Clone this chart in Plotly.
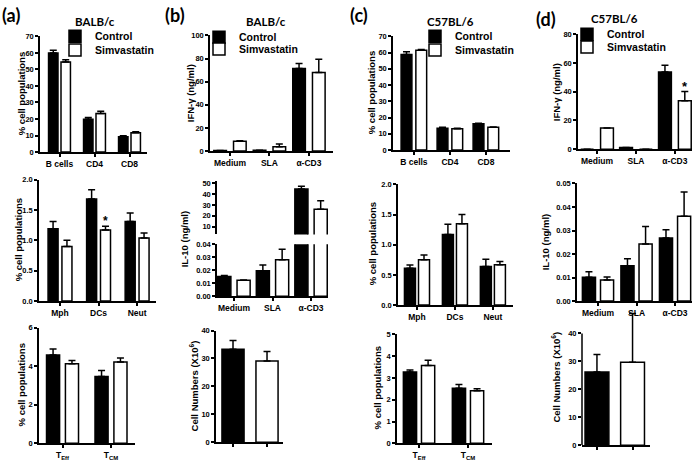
import plotly.graph_objects as go

# categories
cells = ["B cells", "CD4", "CD8"]
myeloid = ["Mph", "DCs", "Neut"]
tcells = ["T<sub>Eff</sub>", "T<sub>CM</sub>"]
stim = ["Medium", "SLA", "α-CD3"]
groups = ["Control", "Simvastatin"]

# (a) BALB/c
a_cells_ctrl = [60.0, 19.9, 9.3]
a_cells_ctrl_err = [1.6, 1.0, 0.6]
a_cells_simv = [54.5, 23.3, 11.7]
a_cells_simv_err = [1.4, 1.4, 0.6]
a_myel_ctrl = [1.19, 1.68, 1.31]
a_myel_ctrl_err = [0.12, 0.15, 0.14]
a_myel_simv = [0.90, 1.17, 1.04]
a_myel_simv_err = [0.10, 0.06, 0.08]
a_tcell_ctrl = [4.58, 3.47]
a_tcell_ctrl_err = [0.31, 0.31]
a_tcell_simv = [4.12, 4.22]
a_tcell_simv_err = [0.17, 0.20]

# (b) BALB/c
b_ifn_ctrl = [0.6, 0.8, 71.4]
b_ifn_ctrl_err = [0.0, 0.0, 4.2]
b_ifn_simv = [8.5, 3.7, 68.0]
b_ifn_simv_err = [0.4, 2.5, 11.3]
b_il10_ctrl = [0.0152, 0.0197, 44.8]
b_il10_ctrl_err = [0.0008, 0.0043, 2.7]
b_il10_simv = [0.0122, 0.0281, 26.0]
b_il10_simv_err = [0.0002, 0.0081, 8.0]
b_count = [33.3, 29.1]
b_count_err = [3.1, 3.4]

# (c) C57BL/6
c_cells_ctrl = [58.9, 13.4, 16.2]
c_cells_ctrl_err = [1.6, 0.6, 0.4]
c_cells_simv = [61.5, 13.2, 14.0]
c_cells_simv_err = [0.4, 0.2, 0.2]
c_myel_ctrl = [0.61, 1.17, 0.64]
c_myel_ctrl_err = [0.055, 0.17, 0.12]
c_myel_simv = [0.75, 1.35, 0.67]
c_myel_simv_err = [0.08, 0.15, 0.05]
c_tcell_ctrl = [3.27, 2.53]
c_tcell_ctrl_err = [0.10, 0.17]
c_tcell_simv = [3.57, 2.42]
c_tcell_simv_err = [0.25, 0.09]

# (d) C57BL/6
d_ifn_ctrl = [0.0, 1.1, 53.7]
d_ifn_ctrl_err = [0.0, 0.0, 4.8]
d_ifn_simv = [14.7, 0.0, 33.8]
d_ifn_simv_err = [0.0, 0.0, 6.3]
d_il10_ctrl = [0.0101, 0.0150, 0.0268]
d_il10_ctrl_err = [0.0024, 0.0030, 0.0035]
d_il10_simv = [0.0090, 0.0243, 0.0361]
d_il10_simv_err = [0.0013, 0.0074, 0.0103]
d_count = [26.2, 29.7]
d_count_err = [6.3, 17.4]

W, H = 700, 464
FONT = "Liberation Sans, Arial, sans-serif"
TFONT = "Lato, Liberation Sans, sans-serif"

fig = go.Figure()


def names(i):
    s = "" if i == 1 else str(i)
    return "x" + s, "y" + s, "xaxis" + s, "yaxis" + s


def axes(i, xpx, ypx, xr, yr, dt, fmt="", show_x=True, xlabels=True, yline=True):
    xa, ya, xk, yk = names(i)
    fig.update_layout({
        xk: dict(domain=[xpx[0] / W, xpx[1] / W], anchor=ya, type="category", range=xr,
                 showline=show_x, linecolor="black", linewidth=1.5,
                 ticks="outside" if show_x else "", ticklen=3, tickwidth=1.5, tickcolor="black",
                 showticklabels=xlabels, showgrid=False, zeroline=False, fixedrange=True,
                 tickfont=dict(family=FONT, size=8.5, color="black", weight="bold")),
        yk: dict(domain=[1 - ypx[1] / H, 1 - ypx[0] / H], anchor=xa, range=yr,
                 dtick=dt, tick0=0, tickformat=fmt,
                 showline=yline, linecolor="black", linewidth=1.5,
                 ticks="outside", ticklen=3, tickwidth=1.5, tickcolor="black",
                 showgrid=False, zeroline=False, fixedrange=True,
                 tickfont=dict(family=FONT, size=7.5, color="black", weight="bold")),
    })


def bars(i, x, y, err, color, name, w, off, legend=None):
    xa, ya, _, _ = names(i)
    fig.add_trace(go.Bar(
        x=x, y=y, name=name, xaxis=xa, yaxis=ya, width=w, offset=off,
        marker=dict(color=color, line=dict(color="black", width=1.5)),
        error_y=dict(type="data", array=err, arrayminus=[0 for _ in err], symmetric=False,
                     color="black", thickness=1.5, width=3.5),
        showlegend=legend is not None, legend=legend or "legend",
    ))


def pair(i, cats, ctrl, ctrl_err, simv, simv_err, w, g, legends=(None, None)):
    bars(i, cats, ctrl, ctrl_err, "black", "Control", w, -w - g / 2, legends[0])
    bars(i, cats, simv, simv_err, "white", "Simvastatin", w, g / 2, legends[1])


def single(i, y, err, w):
    xa, ya, _, _ = names(i)
    fig.add_trace(go.Bar(
        x=groups, y=y, xaxis=xa, yaxis=ya, width=w, showlegend=False,
        marker=dict(color=["black", "white"], line=dict(color="black", width=1.5)),
        error_y=dict(type="data", array=err, arrayminus=[0 for _ in err], symmetric=False,
                     color="black", thickness=1.5, width=3.5),
    ))


# (a)
pair(1, cells, a_cells_ctrl, a_cells_ctrl_err, a_cells_simv, a_cells_simv_err, 0.27, 0.086, ("legend", "legend2"))
axes(1, (40, 147), (33, 151), [-0.557, 2.5], [0, 70], 10)
pair(2, myeloid, a_myel_ctrl, a_myel_ctrl_err, a_myel_simv, a_myel_simv_err, 0.26, 0.1)
axes(2, (39, 156), (179, 303), [-0.545, 2.49], [0, 2], 0.5, ".1f")
pair(3, tcells, a_tcell_ctrl, a_tcell_ctrl_err, a_tcell_simv, a_tcell_simv_err, 0.27, 0.12)
axes(3, (39, 135), (330, 448), [-0.485, 1.495], [0, 6], 2)

# (b)
pair(4, stim, b_ifn_ctrl, b_ifn_ctrl_err, b_ifn_simv, b_ifn_simv_err, 0.32, 0.18, ("legend3", "legend4"))
axes(4, (210, 333), (32, 150), [-0.506, 2.61], [0, 100], 20)
pair(5, stim, b_il10_ctrl, b_il10_ctrl_err, b_il10_simv, b_il10_simv_err, 0.34, 0.16)
axes(5, (217, 328), (181, 235), [-0.44, 2.44], [2.7, 51.8], 10, show_x=False, xlabels=False)
pair(6, stim, b_il10_ctrl, b_il10_ctrl_err, b_il10_simv, b_il10_simv_err, 0.34, 0.16)
axes(6, (217, 328), (245, 298), [-0.44, 2.44], [0, 0.04], 0.01, ".2f")
single(7, b_count, b_count_err, 0.65)
axes(7, (216, 283), (333, 447), [-0.5, 1.47], [0, 40], 10, xlabels=False)

# (c)
pair(8, cells, c_cells_ctrl, c_cells_ctrl_err, c_cells_simv, c_cells_simv_err, 0.3, 0.11, ("legend5", "legend6"))
axes(8, (393, 510), (33, 149), [-0.58, 2.67], [0, 70], 10)
pair(9, myeloid, c_myel_ctrl, c_myel_ctrl_err, c_myel_simv, c_myel_simv_err, 0.29, 0.08)
axes(9, (398, 513), (184, 307), [-0.5, 2.53], [0, 2], 0.5, ".1f")
pair(10, tcells, c_tcell_ctrl, c_tcell_ctrl_err, c_tcell_simv, c_tcell_simv_err, 0.27, 0.1)
axes(10, (397, 492), (337, 448), [-0.45, 1.49], [0, 5], 1)

# (d)
pair(11, stim, d_ifn_ctrl, d_ifn_ctrl_err, d_ifn_simv, d_ifn_simv_err, 0.33, 0.18, ("legend7", "legend8"))
axes(11, (578, 692), (31, 148), [-0.49, 2.44], [0, 80], 20)
pair(12, stim, d_il10_ctrl, d_il10_ctrl_err, d_il10_simv, d_il10_simv_err, 0.34, 0.13)
axes(12, (577, 692), (183, 303), [-0.545, 2.44], [0, 0.05], 0.01, ".2f")
single(13, d_count, d_count_err, 0.67)
axes(13, (582, 650), (312, 450), [-0.42, 1.49], [0, 48.4], 10, xlabels=False, yline=False)
# y axis line of (d) bottom stops at 40, error bar goes above it
fig.add_shape(type="line", xref="x13 domain", yref="y13", x0=0, x1=0, y0=0, y1=40,
              line=dict(color="black", width=1.5), layer="above")

ann = []
# panel letters and strain titles
for txt, x, y in [("(a)", 0, 11), ("(b)", 163, 11), ("(c)", 348, 11), ("(d)", 534, 15)]:
    ann.append(dict(text=txt, x=x / W, y=1 - y / H, xanchor="left", yanchor="middle",
                    font=dict(family=TFONT, size=18, color="black", weight="bold")))
for txt, x, y in [("BALB/c", 95, 18), ("BALB/c", 266, 18), ("C57BL/6", 450, 18), ("C57BL/6", 614, 15)]:
    ann.append(dict(text=txt, x=x / W, y=1 - y / H, xanchor="center", yanchor="middle",
                    font=dict(family=TFONT, size=11.5, color="black", weight="bold")))
# y axis titles
ytitles = [
    ("% cell populations", 21, 92), ("% cell populations", 18, 241), ("% cell populations", 21, 389),
    ("IFN-γ (ng/ml)", 190, 91), ("IL-10 (ng/ml)", 184, 240), ("Cell Numbers (X10<sup>6</sup>)", 194, 390),
    ("% cell populations", 371, 91), ("% cell populations", 372, 245), ("% cell populations", 377, 392),
    ("IFN-γ (ng/ml)", 556, 90), ("IL-10 (ng/ml)", 545, 243), ("Cell Numbers (X10<sup>6</sup>)", 556, 381),
]
for txt, x, y in ytitles:
    ann.append(dict(text=txt, x=x / W, y=1 - y / H, xanchor="center", yanchor="middle", textangle=-90,
                    font=dict(family=FONT, size=9.5, color="black", weight="bold")))
# significance marks
ann.append(dict(text="*", xref="x2", yref="y2", x=1 + 0.05 + 0.13, y=1.23, yanchor="bottom", yshift=-4,
                font=dict(family=FONT, size=12, color="black", weight="bold")))
ann.append(dict(text="*", xref="x11", yref="y11", x=2 + 0.09 + 0.165, y=40.1, yanchor="bottom", yshift=-4,
                font=dict(family=FONT, size=13, color="black", weight="bold")))
for a in ann:
    a.setdefault("xref", "paper")
    a.setdefault("yref", "paper")
    a["showarrow"] = False

# one legend per entry so each row sits where the reference puts it
legend_style = dict(xanchor="left", yanchor="top", bgcolor="rgba(0,0,0,0)", tracegroupgap=0,
                    font=dict(family=FONT, size=10.5, color="black", weight="bold"))
legend_pos = {
    "legend": (95, 35), "legend2": (95, 49),
    "legend3": (239, 36), "legend4": (239, 48),
    "legend5": (455, 35), "legend6": (455, 49),
    "legend7": (607, 33), "legend8": (607, 46),
}
LEG_DX, LEG_DY = 40, 17
for key, (tx, cy) in legend_pos.items():
    fig.update_layout({key: dict(x=(tx - LEG_DX) / W, y=1 - (cy - LEG_DY) / H, **legend_style)})

fig.update_layout(
    width=W, height=H, margin=dict(l=0, r=0, t=0, b=0),
    paper_bgcolor="white", plot_bgcolor="white",
    barmode="overlay", annotations=ann,
)

fig.write_html("out.html", config={"displayModeBar": False},
               post_script="document.body.style.margin = '0';")
